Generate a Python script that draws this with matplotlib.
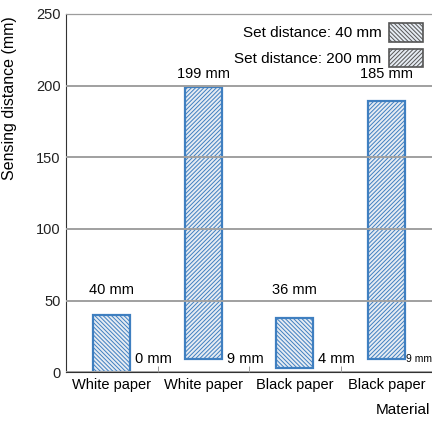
import numpy as np
import matplotlib.pyplot as plt
from matplotlib.patches import Patch

# -----------------------------
# Data
# -----------------------------
materials = ["White paper", "White paper", "Black paper", "Black paper"]
set_distance = [40, 200, 40, 200]          # mm
bar_bottom = [0, 9, 3, 9]                  # mm
bar_top = [40, 199, 38, 189]               # mm
top_labels = ["40 mm", "199 mm", "36 mm", "185 mm"]
bottom_labels = ["0 mm", "9 mm", "4 mm", "9 mm"]
y_ticks = [0, 50, 100, 150, 200, 250]

edge_blue = "#3f7fc0"
face = "#e6ecf3"
hatch_for = {40: "\\" * 8, 200: "/" * 8}

plt.rcParams["font.family"] = ["Liberation Sans", "DejaVu Sans"]
plt.rcParams["hatch.color"] = "#9eabbd"
plt.rcParams["hatch.linewidth"] = 0.7

fig = plt.figure(figsize=(4.32, 4.21), dpi=100)
ax = fig.add_axes([0.153, 0.116, 0.847, 0.851])

x = np.arange(len(materials))
for i in x:
    h = bar_top[i] - bar_bottom[i]
    ax.bar(i, h, bottom=bar_bottom[i], width=0.405, color=face,
           edgecolor=edge_blue, linewidth=1.6,
           hatch=hatch_for[set_distance[i]], zorder=1)
    lab_y = 57 if set_distance[i] == 40 else 208
    ax.text(i, lab_y, top_labels[i], ha="center", va="center", fontsize=10.5, zorder=4)
    if i < 3:
        ax.text(i + 0.255, 9, bottom_labels[i], ha="left", va="center",
                fontsize=10.5, zorder=4)
    else:
        ax.text(i + 0.215, 9, bottom_labels[i], ha="left", va="center",
                fontsize=7.5, zorder=4)

ax.set_xlim(-0.5, 3.5)
ax.set_ylim(0, 250)
ax.set_yticks(y_ticks)
ax.set_xticks(x)
ax.set_xticklabels(materials, fontsize=10.5)
ax.set_xticks([0.5, 1.5, 2.5], minor=True)
ax.tick_params(axis="x", which="major", length=0, pad=4)
ax.tick_params(axis="x", which="minor", direction="in", length=4, color="#888888")
ax.tick_params(axis="y", length=0, labelsize=10.5, pad=4)
ax.set_axisbelow(False)
ax.grid(axis="y", color="#a0a0a0", linewidth=1.4)
for t in ax.get_yticklabels():
    t.set_color("#222222")

ax.spines["right"].set_visible(False)
ax.spines["left"].set_color("#333333")
ax.spines["bottom"].set_color("#333333")
ax.spines["top"].set_color("#222222")

ax.set_ylabel("Sensing distance (mm)", fontsize=11.5)
ax.yaxis.set_label_coords(-0.134, 0.765)
fig.text(0.995, 0.025, "Material", ha="right", va="center", fontsize=11)

handles = [Patch(facecolor=face, edgecolor="#555555", hatch=hatch_for[40], linewidth=1.2),
           Patch(facecolor=face, edgecolor="#555555", hatch=hatch_for[200], linewidth=1.2)]
leg = ax.legend(handles, ["Set distance: 40 mm", "Set distance: 200 mm"],
                loc="upper right", frameon=False, markerfirst=False,
                fontsize=11, handlelength=2.2, handleheight=1.5,
                labelspacing=0.45, handletextpad=0.5, borderaxespad=0.2)

plt.savefig("out.png", dpi=100)
